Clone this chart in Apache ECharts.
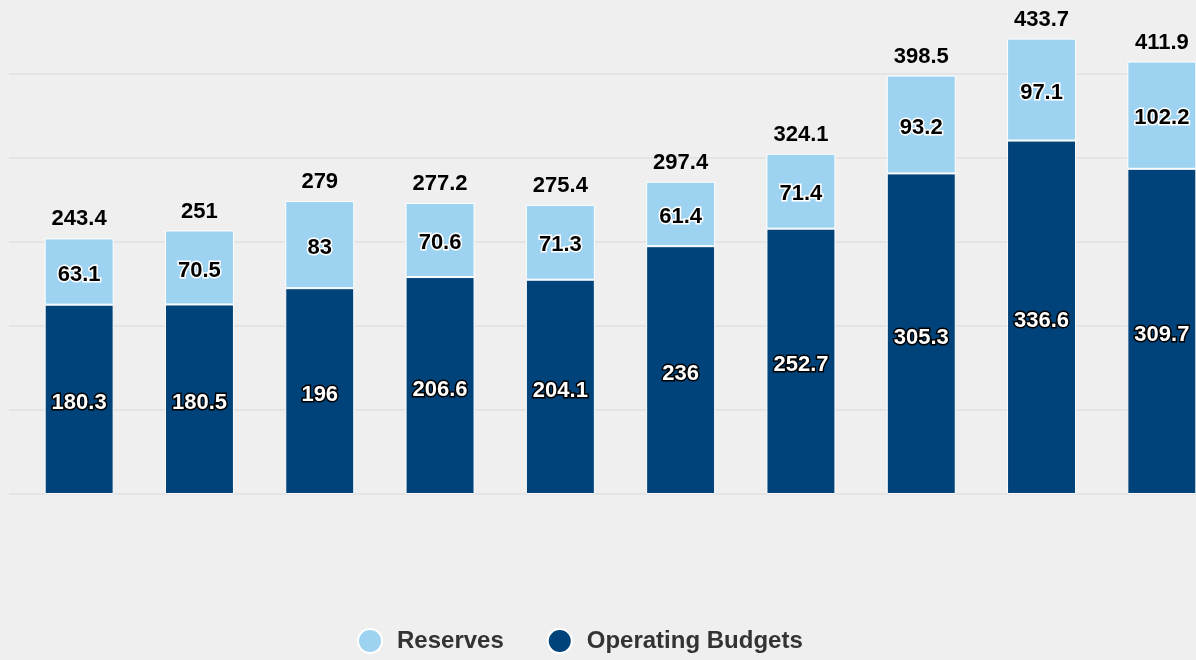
<!DOCTYPE html>
<html>
<head>
<meta charset="utf-8">
<script src="https://cdn.jsdelivr.net/npm/echarts@6/dist/echarts.min.js"></script>
<style>
  html, body { margin: 0; padding: 0; background: #efefef; }
  #chart { width: 1196px; height: 660px; }
</style>
</head>
<body>
<div id="chart"></div>
<script>
// Ten periods, stacked: operating budgets at the base, reserves on top
const categories = ['1', '2', '3', '4', '5', '6', '7', '8', '9', '10'];
const operatingBudgets = [180.3, 180.5, 196, 206.6, 204.1, 236, 252.7, 305.3, 336.6, 309.7];
const reserves = [63.1, 70.5, 83, 70.6, 71.3, 61.4, 71.4, 93.2, 97.1, 102.2];
const yTicks = { min: 0, max: 480, interval: 80 };

// Stack totals shown above each column
const totals = operatingBudgets.map((v, i) => Math.round((v + reserves[i]) * 10) / 10);

const FONT = '"Liberation Sans", Arial, sans-serif';
const LIGHT = '#9dd3f1';
const DARK = '#00437a';

const chart = echarts.init(document.getElementById('chart'), null, { renderer: 'canvas' });

chart.setOption({
  backgroundColor: '#efefef',
  animation: false,
  textStyle: { fontFamily: FONT },
  legend: {
    left: 352,
    top: 623,
    icon: 'circle',
    itemWidth: 44,
    itemHeight: 24,
    itemGap: 43,
    textStyle: { fontFamily: FONT, fontSize: 24, fontWeight: 'bold', color: '#333333' },
    data: ['Reserves', 'Operating Budgets']
  },
  grid: [
    // gridline layer (slightly wider than the column area)
    { left: 9, right: 0, top: -10, bottom: 166, outerBoundsMode: 'none' },
    // column area, running past the right edge
    { left: 19, right: -26, top: -10, bottom: 166, outerBoundsMode: 'none' }
  ],
  xAxis: [
    { gridIndex: 0, type: 'value', show: false, min: 0, max: 1 },
    {
      gridIndex: 1,
      type: 'category',
      data: categories,
      axisLine: { show: false },
      axisTick: { show: false },
      axisLabel: { show: false }
    }
  ],
  yAxis: [
    {
      gridIndex: 0,
      type: 'value',
      min: yTicks.min,
      max: yTicks.max,
      interval: yTicks.interval,
      axisLine: { show: false },
      axisTick: { show: false },
      axisLabel: { show: false },
      splitLine: { lineStyle: { color: '#e0e0e0', width: 1.5 } }
    },
    {
      gridIndex: 1,
      type: 'value',
      min: yTicks.min,
      max: yTicks.max,
      interval: yTicks.interval,
      show: false,
      splitLine: { show: false }
    }
  ],
  series: [
    {
      name: 'Operating Budgets',
      type: 'bar',
      stack: 'total',
      xAxisIndex: 1,
      yAxisIndex: 1,
      barWidth: 69,
      data: operatingBudgets,
      itemStyle: { color: DARK, borderColor: '#ffffff', borderWidth: 1 },
      label: {
        show: true,
        position: 'inside',
        offset: [0, 4],
        fontFamily: FONT,
        fontSize: 22,
        fontWeight: 'bold',
        color: '#ffffff',
        textBorderColor: '#000000',
        textBorderWidth: 3
      }
    },
    {
      name: 'Reserves',
      type: 'bar',
      stack: 'total',
      xAxisIndex: 1,
      yAxisIndex: 1,
      barWidth: 69,
      data: reserves,
      itemStyle: { color: LIGHT, borderColor: '#ffffff', borderWidth: 1 },
      label: {
        show: true,
        position: 'inside',
        offset: [0, 3],
        fontFamily: FONT,
        fontSize: 22,
        fontWeight: 'bold',
        color: '#000000',
        textBorderColor: '#ffffff',
        textBorderWidth: 3
      }
    },
    {
      // transparent carrier for the stack-total labels
      name: 'total',
      type: 'bar',
      stack: 'total',
      xAxisIndex: 1,
      yAxisIndex: 1,
      barWidth: 69,
      data: totals.map(() => 0),
      itemStyle: { color: 'transparent' },
      legendHoverLink: false,
      label: {
        show: true,
        position: 'top',
        distance: 8,
        fontFamily: FONT,
        fontSize: 22,
        fontWeight: 'bold',
        color: '#000000',
        formatter: (p) => String(totals[p.dataIndex])
      }
    }
  ]
});
</script>
</body>
</html>
